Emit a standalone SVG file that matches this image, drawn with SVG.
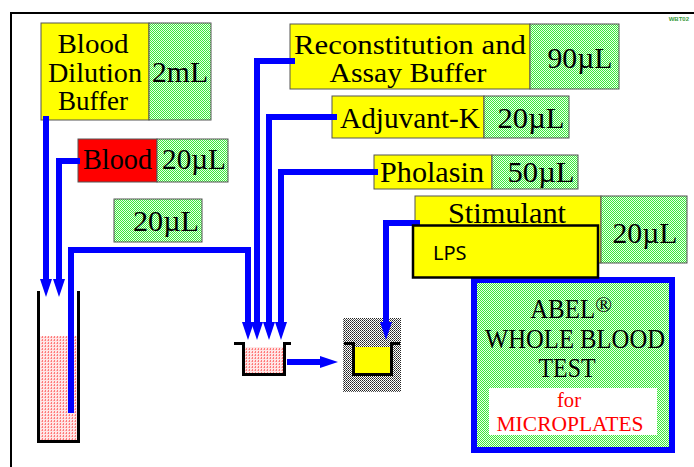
<svg xmlns="http://www.w3.org/2000/svg" width="694" height="467" viewBox="0 0 694 467">
<defs>
<pattern id="pg" width="2" height="2" patternUnits="userSpaceOnUse">
<rect width="2" height="2" fill="#eaffea"/>
<rect width="1" height="1" fill="#3ce83c"/>
<rect x="1" y="1" width="1" height="1" fill="#3ce83c"/>
</pattern>
<pattern id="pp" width="3" height="3" patternUnits="userSpaceOnUse">
<rect width="3" height="3" fill="#ffe6e6"/>
<rect width="1" height="2" fill="#ff7a7a"/>
<rect x="2" y="1" width="1" height="1" fill="#ffb0b0"/>
</pattern>
<pattern id="pk" width="2" height="2" patternUnits="userSpaceOnUse">
<rect width="2" height="2" fill="#ffffff"/>
<rect width="1" height="1" fill="#222"/>
<rect x="1" y="1" width="1" height="1" fill="#555"/>
</pattern>
<marker id="ah" markerWidth="18" markerHeight="12" refX="1" refY="6" orient="auto" markerUnits="userSpaceOnUse" overflow="visible">
<path d="M0,0 L18,6 L0,12 z" fill="#0000ff"/>
</marker>
<style>
.lbl{font-family:"Liberation Serif","DejaVu Serif",serif;font-size:30px;fill:#000;text-anchor:middle}
.st{font-size:28px}
.sm{font-size:22px}
.red{fill:#ff0000}
.y{fill:#ffff00;stroke:#555;stroke-width:1}
.g{fill:url(#pg);stroke:#555;stroke-width:1}
.r{fill:#ff0000;stroke:#555;stroke-width:1}
.c{fill:none;stroke:#0000ff;stroke-width:6;stroke-linejoin:miter}
.w{fill:none;stroke:#000;stroke-width:3}
</style>
</defs>
<rect width="694" height="467" fill="#fff"/>
<path d="M11,467 V13 H694" fill="none" stroke="#000" stroke-width="2"/>
<text x="689" y="21" font-family="Liberation Sans, sans-serif" font-size="6" font-weight="bold" fill="#3a9a3a" text-anchor="end">WBT02</text>

<g id="blood-dilution-buffer">
<rect class="y" x="41" y="23" width="108" height="97"/>
<rect class="g" x="149" y="23" width="62" height="97"/>
<text class="lbl st" x="93" y="53" textLength="71" lengthAdjust="spacingAndGlyphs">Blood</text>
<text class="lbl st" x="95" y="82" textLength="94" lengthAdjust="spacingAndGlyphs">Dilution</text>
<text class="lbl st" x="93" y="110" textLength="70" lengthAdjust="spacingAndGlyphs">Buffer</text>
<text class="lbl" x="180" y="82" textLength="56" lengthAdjust="spacingAndGlyphs">2mL</text>
</g>

<g id="blood">
<rect class="r" x="78" y="139" width="79" height="43"/>
<rect class="g" x="157" y="139" width="71" height="43"/>
<text class="lbl" x="117.5" y="169" textLength="69" lengthAdjust="spacingAndGlyphs">Blood</text>
<text class="lbl" x="194" y="169" textLength="64" lengthAdjust="spacingAndGlyphs">20µL</text>
</g>

<g id="sample-20">
<rect class="g" x="114" y="199" width="88" height="43"/>
<text class="lbl" x="166" y="231" textLength="66" lengthAdjust="spacingAndGlyphs">20µL</text>
</g>

<g id="reconstitution-buffer">
<rect class="y" x="290" y="24" width="240" height="65"/>
<rect class="g" x="530" y="24" width="89" height="65"/>
<text class="lbl st" x="410" y="54" textLength="232" lengthAdjust="spacingAndGlyphs">Reconstitution and</text>
<text class="lbl st" x="408" y="82" textLength="157" lengthAdjust="spacingAndGlyphs">Assay Buffer</text>
<text class="lbl" x="580" y="68" textLength="65" lengthAdjust="spacingAndGlyphs">90µL</text>
</g>

<g id="adjuvant-k">
<rect class="y" x="332" y="96" width="152" height="42"/>
<rect class="g" x="484" y="96" width="85" height="42"/>
<text class="lbl" x="410" y="128" textLength="140" lengthAdjust="spacingAndGlyphs">Adjuvant-K</text>
<text class="lbl" x="531" y="128" textLength="67" lengthAdjust="spacingAndGlyphs">20µL</text>
</g>

<g id="pholasin">
<rect class="y" x="374" y="155" width="118" height="34"/>
<rect class="g" x="492" y="155" width="86" height="34"/>
<text class="lbl" x="432" y="182" textLength="104" lengthAdjust="spacingAndGlyphs">Pholasin</text>
<text class="lbl" x="541" y="182" textLength="67" lengthAdjust="spacingAndGlyphs">50µL</text>
</g>

<g id="stimulant">
<rect class="y" x="415" y="196" width="186" height="67"/>
<rect class="g" x="601" y="196" width="86" height="67"/>
<text class="lbl" x="507" y="223" textLength="118" lengthAdjust="spacingAndGlyphs">Stimulant</text>
<text class="lbl" x="645" y="243" textLength="65" lengthAdjust="spacingAndGlyphs">20µL</text>
</g>

<g id="tube">
<rect x="40" y="336" width="37" height="104" fill="url(#pp)"/>
<path class="w" d="M38.5,291 V441.5 H78.5 V291"/>
</g>

<g id="well-1">
<rect x="245" y="347" width="38" height="26" fill="url(#pp)"/>
<path class="w" d="M234,343.5 H243.5 V374.5 H284.5 V343.5 H291"/>
</g>

<g id="well-2">
<rect x="343" y="318" width="58" height="74" fill="url(#pk)"/>
<rect x="354" y="347" width="36" height="26" fill="#ffff00"/>
<path class="w" d="M344,343.5 H353.5 V374.5 H391.5 V343.5 H400"/>
</g>

<g id="abel-title">
<rect x="474" y="280" width="198" height="170" fill="url(#pg)" stroke="#0000ff" stroke-width="6"/>
<rect x="489" y="388" width="168" height="47" fill="#fff"/>
<text class="lbl st" x="571" y="318" style="text-anchor:middle"><tspan textLength="65" lengthAdjust="spacingAndGlyphs">ABEL</tspan><tspan dy="-6" style="font-size:22px">®</tspan></text>
<text class="lbl st" x="575" y="348" textLength="180" lengthAdjust="spacingAndGlyphs">WHOLE BLOOD</text>
<text class="lbl st" x="567" y="377" textLength="57" lengthAdjust="spacingAndGlyphs">TEST</text>
<text class="lbl sm red" x="569" y="407" textLength="24" lengthAdjust="spacingAndGlyphs">for</text>
<text class="lbl sm red" x="570" y="431" textLength="147" lengthAdjust="spacingAndGlyphs">MICROPLATES</text>
</g>

<g id="connectors">
<path class="c" d="M46,116 V280" marker-end="url(#ah)"/>
<path class="c" d="M80,161 H59 V280" marker-end="url(#ah)"/>
<path class="c" d="M71,413 V250 H248 V323" marker-end="url(#ah)"/>
<path class="c" d="M295,61 H257 V323" marker-end="url(#ah)"/>
<path class="c" d="M337,117 H269 V323" marker-end="url(#ah)"/>
<path class="c" d="M378,172 H281 V323" marker-end="url(#ah)"/>
<path class="c" d="M420,223 H386 V323" marker-end="url(#ah)"/>
<path class="c" d="M287,362 H321" marker-end="url(#ah)"/>
</g>

<g id="lps">
<rect x="413" y="225.5" width="185" height="52" fill="#ffff00" stroke="#000" stroke-width="2.5"/>
<text x="433" y="260" font-family="Noto Sans, Open Sans, sans-serif" font-size="20" fill="#000">LPS</text>
</g>
</svg>
